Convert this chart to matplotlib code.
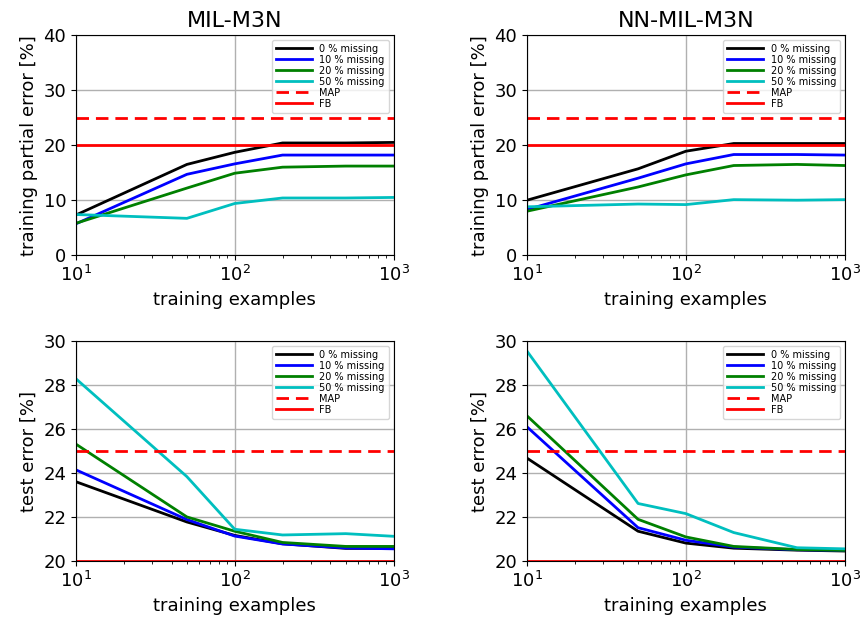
import numpy as np
import matplotlib.pyplot as plt

n_train = [10, 50, 100, 200, 500, 1000]
labels = ["0 % missing", "10 % missing", "20 % missing", "50 % missing"]
colors = ["k", "b", "g", "c"]

# training partial error [%]
train_mil = [
    [7.3, 16.5, 18.7, 20.4, 20.4, 20.5],
    [5.7, 14.7, 16.6, 18.2, 18.2, 18.2],
    [5.8, 12.2, 14.9, 16.0, 16.2, 16.2],
    [7.4, 6.7, 9.4, 10.4, 10.4, 10.5],
]
train_nn = [
    [10.0, 15.7, 18.9, 20.3, 20.3, 20.3],
    [8.3, 14.0, 16.6, 18.3, 18.3, 18.2],
    [8.0, 12.4, 14.6, 16.3, 16.5, 16.3],
    [8.8, 9.3, 9.2, 10.1, 10.0, 10.1],
]
# test error [%]
test_mil = [
    [23.61, 21.78, 21.17, 20.79, 20.58, 20.58],
    [24.15, 21.89, 21.14, 20.78, 20.60, 20.56],
    [25.32, 22.01, 21.36, 20.85, 20.67, 20.67],
    [28.29, 23.84, 21.45, 21.19, 21.25, 21.13],
]
test_nn = [
    [24.68, 21.36, 20.82, 20.59, 20.50, 20.46],
    [26.10, 21.52, 20.95, 20.64, 20.52, 20.49],
    [26.60, 21.90, 21.10, 20.67, 20.53, 20.49],
    [29.54, 22.62, 22.16, 21.30, 20.61, 20.56],
]
map_err = 25
fb_err = 20

fig, axs = plt.subplots(2, 2, figsize=(8.62, 6.27), dpi=100)
plt.subplots_adjust(left=0.088, right=0.980, top=0.944, bottom=0.105, wspace=0.42, hspace=0.39)

panels = [
    (axs[0, 0], train_mil, "training partial error [%]", (0, 40), "MIL-M3N"),
    (axs[0, 1], train_nn, "training partial error [%]", (0, 40), "NN-MIL-M3N"),
    (axs[1, 0], test_mil, "test error [%]", (20, 30), None),
    (axs[1, 1], test_nn, "test error [%]", (20, 30), None),
]

for ax, data, ylab, ylim, title in panels:
    for vals, lab, c in zip(data, labels, colors):
        ax.plot(n_train, vals, color=c, lw=2, label=lab)
    ax.axhline(map_err, color="r", ls="--", dashes=(4.5, 2.5), lw=2, label="MAP")
    ax.axhline(fb_err, color="r", lw=2, label="FB")
    ax.set_xscale("log")
    ax.set_xlim(10, 1000)
    ax.set_ylim(*ylim)
    if ylim[0] == 0:
        ax.set_yticks([0, 10, 20, 30, 40])
    else:
        ax.set_yticks([20, 22, 24, 26, 28, 30])
    ax.grid(True, color="#b0b0b0", lw=1)
    ax.set_xlabel("training examples", fontsize=13)
    ax.set_ylabel(ylab, fontsize=13)
    ax.tick_params(labelsize=13)
    if title:
        ax.set_title(title, fontsize=16)
    ax.legend(loc="upper right", fontsize=7, handlelength=3.7, labelspacing=0.1,
              borderpad=0.4, framealpha=0.8)

plt.savefig("out.png")
